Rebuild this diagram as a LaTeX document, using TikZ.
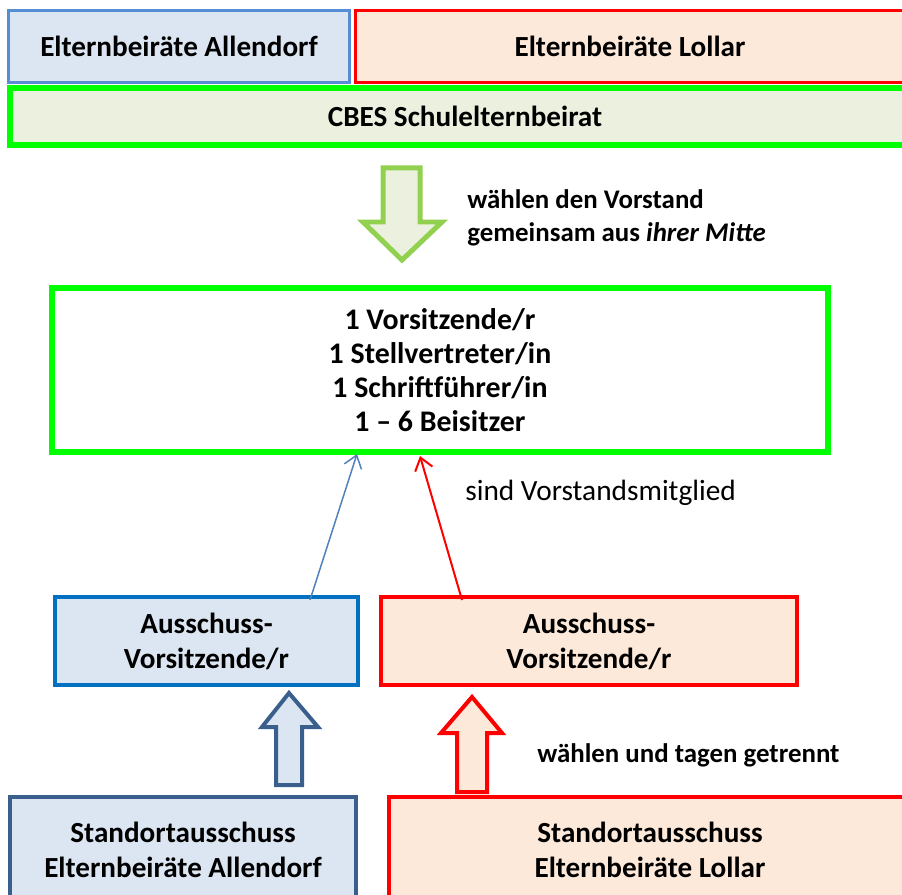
\documentclass[tikz,border=0pt]{standalone}
\usepackage{fontspec}
\setmainfont{Carlito}
\usetikzlibrary{arrows.meta, positioning}

\definecolor{blueTop}{HTML}{558ED5}
\definecolor{blueMid}{HTML}{0070C0}
\definecolor{blueLow}{HTML}{3B5F8C}
\definecolor{blueFill}{HTML}{DCE6F2}
\definecolor{redFill}{HTML}{FDE9D9}
\definecolor{greenFill}{HTML}{EBF1DE}
\definecolor{greenArrow}{HTML}{92D050}
\definecolor{lineBlue}{HTML}{4F81BD}

\tikzset{
  box/.style={draw, align=center, inner sep=0pt, font=\bfseries\fontsize{16.6}{20}\selectfont},
  bluebox/.style={box, fill=blueFill},
  redbox/.style={box, draw=red, fill=redFill},
  greenbox/.style={box, draw=green, line width=0.12cm},
  label/.style={anchor=west, align=left, inner sep=0pt, font=\fontsize{16.7}{20}\selectfont},
  boldlabel/.style={label, font=\bfseries\fontsize{15.3}{19}\selectfont},
}

\begin{document}
\begin{tikzpicture}[x=0.02cm, y=-0.02cm]
\useasboundingbox (0,0) rectangle (902,895);

% Top row
\node[bluebox, draw=blueTop, line width=0.06cm, minimum width=6.84cm, minimum height=1.46cm] (elternA) at (179,46.5) {Elternbeiräte Allendorf};
\node[redbox, line width=0.06cm, minimum width=11cm, minimum height=1.46cm] (elternB) at (630,46.5) {Elternbeiräte Lollar};
\node[greenbox, fill=greenFill, minimum width=18.2cm, minimum height=1.14cm] (cbes) at (465,116.5) {CBES Schulelternbeirat};

% Arrow down
\draw[greenArrow, fill=greenFill, line width=0.1cm, line join=miter]
  (383,168) -- (420,168) -- (420,222) -- (442,222) -- (402,260) -- (363,222) -- (383,222) -- cycle;
\node[boldlabel] (waehlen) at (467,218) {wählen den Vorstand\\gemeinsam aus \textit{ihrer Mitte}};

% Vorstand
\node[greenbox, fill=white, minimum width=15.52cm, minimum height=3.28cm, font=\bfseries\fontsize{17}{19.3}\selectfont] (vorstand) at (440,370)
  {1 Vorsitzende/r\\1 Stellvertreter/in\\1 Schriftführer/in\\1 -- 6 Beisitzer};

% Ausschuss
\node[bluebox, draw=blueMid, line width=0.08cm, minimum width=6.06cm, minimum height=1.76cm] (ausA) at (206.5,641) {Ausschuss-\\Vorsitzende/r};
\node[redbox, line width=0.08cm, minimum width=8.32cm, minimum height=1.76cm] (ausB) at (589,641) {Ausschuss-\\Vorsitzende/r};

\coordinate (fromA) at (310,600);
\coordinate (toA) at (357,454);
\coordinate (fromB) at (462,600);
\coordinate (toB) at (420,456);
\draw[lineBlue, line width=0.03cm, -{Straight Barb[length=2.4mm, width=3.6mm]}] (fromA) -- (toA);
\draw[red, line width=0.04cm, -{Straight Barb[length=2.4mm, width=3.6mm]}] (fromB) -- (toB);
\node[label] (mitglied) at (465,493) {sind Vorstandsmitglied};

% Arrows up
\draw[blueLow, fill=blueFill, line width=0.08cm, line join=miter]
  (276,785) -- (302,785) -- (302,727) -- (318,727) -- (289,693) -- (262,727) -- (276,727) -- cycle;
\draw[red, fill=redFill, line width=0.08cm, line join=miter]
  (457,792) -- (487,792) -- (487,733) -- (502,733) -- (472,697) -- (441,733) -- (457,733) -- cycle;
\node[boldlabel] (getrennt) at (537,755) {wählen und tagen getrennt};

% Standort
\node[bluebox, draw=blueLow, line width=0.08cm, minimum width=6.92cm, minimum height=2.12cm] (standA) at (183,850) {Standortausschuss\\Elternbeiräte Allendorf};
\node[redbox, line width=0.08cm, minimum width=10.44cm, minimum height=2.12cm] (standB) at (650,850) {Standortausschuss\\Elternbeiräte Lollar};
\end{tikzpicture}
\end{document}
